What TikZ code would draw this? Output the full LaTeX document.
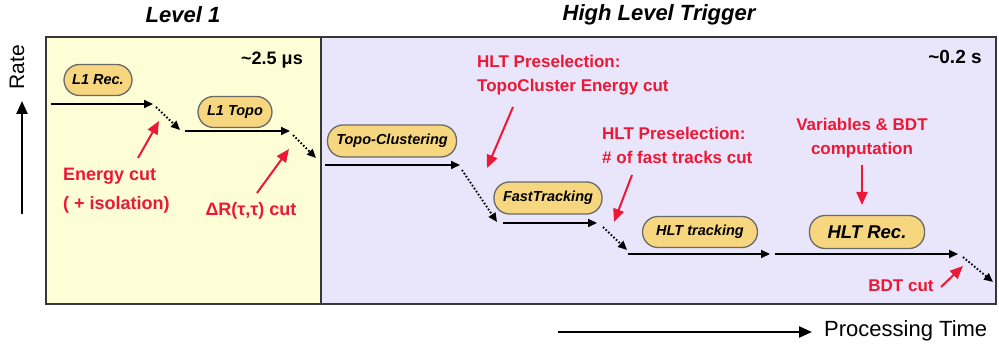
\documentclass[tikz,border=0pt]{standalone}
\usepackage{fontspec}
\setmainfont{Liberation Sans}
\usetikzlibrary{arrows.meta}

\definecolor{lonebg}{RGB}{254,254,214}
\definecolor{hltbg}{RGB}{233,230,251}
\definecolor{pillfill}{RGB}{247,214,128}
\definecolor{pilledge}{RGB}{105,105,105}
\definecolor{cutred}{RGB}{236,24,54}
\definecolor{framegray}{RGB}{55,55,55}

\tikzset{
  stage/.style={draw=pilledge, line width=1.3pt, fill=pillfill,
    rounded corners=15.5pt, minimum height=31pt, inner sep=0pt,
    font=\bfseries\itshape\fontsize{14.5}{16}\selectfont},
  flow/.style={line width=2pt, -{Triangle[length=9pt,width=8pt]}},
  drop/.style={line width=1.9pt, dash pattern=on 1.6pt off 2pt,
    -{Triangle[length=9pt,width=8pt]}},
  cutarrow/.style={cutred, line width=2pt, -{Triangle[length=13pt,width=11pt]}},
  cutlabel/.style={text=cutred, inner sep=0pt, font=\bfseries\fontsize{17}{24}\selectfont},
  axisarrow/.style={line width=2.4pt, -{Triangle[length=13pt,width=11pt]}},
  title/.style={inner sep=0pt, font=\bfseries\itshape\fontsize{22}{24}\selectfont},
  timing/.style={inner sep=0pt, font=\bfseries\fontsize{18}{20}\selectfont},
}

\begin{document}
\begin{tikzpicture}[x=1pt, y=-1pt]
\useasboundingbox (0,0) rectangle (999,347);

% trigger level panels
\draw[framegray, line width=2pt, fill=lonebg] (46,37) rectangle (321,304);
\draw[framegray, line width=2pt, fill=hltbg] (321,37) rectangle (996,304);

% titles and timing budgets
\node[title] (l1title) at (183,15) {Level 1};
\node[title] (hlttitle) at (659,15) {High Level Trigger};
\node[timing] (l1time) at (272,60) {\textasciitilde2.5 μs};
\node[timing, font=\bfseries\fontsize{19}{21}\selectfont] (hlttime) at (955,57) {\textasciitilde0.2 s};

% axes
\node[inner sep=0pt, rotate=90, font=\fontsize{21}{23}\selectfont] (rate) at (17,67) {Rate};
\coordinate (ratebot) at (22,214);
\coordinate (ratetop) at (22,101);
\draw[axisarrow] (ratebot) -- (ratetop);
\coordinate (timel) at (558,332);
\coordinate (timer) at (812,332);
\draw[axisarrow] (timel) -- (timer);
\node[inner sep=0pt, anchor=west, font=\fontsize{22}{24}\selectfont] (ptime) at (824,331) {Processing Time};

% processing stages
\node[stage, minimum width=68pt] (l1rec) at (98,80) {L1 Rec.};
\node[stage, minimum width=74pt] (l1topo) at (235,112) {L1 Topo};
\node[stage, minimum width=129pt, minimum height=32pt] (topocl) at (392,141) {Topo-Clustering};
\node[stage, minimum width=108pt, minimum height=32pt] (fasttrk) at (548,198) {FastTracking};
\node[stage, minimum width=115pt] (hlttrk) at (700,232) {HLT tracking};
\node[stage, minimum width=115pt, minimum height=33pt,
      font=\bfseries\itshape\fontsize{18.5}{20}\selectfont] (hltrec) at (867,232) {HLT Rec.};

% rate steps: processing (solid) and rejection (dotted)
\coordinate (a1s) at (51,104);   \coordinate (a1e) at (153,104);
\coordinate (d1s) at (156,107);  \coordinate (d1e) at (180,130);
\coordinate (a2s) at (185,131);  \coordinate (a2e) at (290,131);
\coordinate (d2s) at (293,135);  \coordinate (d2e) at (316,158);
\coordinate (a3s) at (325,165);  \coordinate (a3e) at (460,165);
\coordinate (d3s) at (462,170);  \coordinate (d3e) at (497,222);
\coordinate (a4s) at (503,223);  \coordinate (a4e) at (597,223);
\coordinate (d4s) at (603,227);  \coordinate (d4e) at (627,250);
\coordinate (a5s) at (628,254);  \coordinate (a5e) at (770,254);
\coordinate (a6s) at (775,254);  \coordinate (a6e) at (958,254);
\coordinate (d6s) at (963,257);  \coordinate (d6e) at (993,282);

\draw[flow] (a1s) -- (a1e);
\draw[drop] (d1s) -- (d1e);
\draw[flow] (a2s) -- (a2e);
\draw[drop] (d2s) -- (d2e);
\draw[flow] (a3s) -- (a3e);
\draw[drop] (d3s) -- (d3e);
\draw[flow] (a4s) -- (a4e);
\draw[drop] (d4s) -- (d4e);
\draw[flow] (a5s) -- (a5e);
\draw[flow] (a6s) -- (a6e);
\draw[drop] (d6s) -- (d6e);

% selection cuts
\node[cutlabel, align=left, anchor=west, font=\bfseries\fontsize{18}{29}\selectfont]
  (ecut) at (63,191) {Energy cut\\( + isolation)};
\node[cutlabel, font=\bfseries\fontsize{18}{20}\selectfont] (drcut) at (251,211) {ΔR(τ,τ) cut};
\node[cutlabel, align=left, anchor=west] (presel1) at (477,75) {HLT Preselection:\\TopoCluster Energy cut};
\node[cutlabel, align=left, anchor=west] (presel2) at (602,145) {HLT Preselection:\\\# of fast tracks cut};
\node[cutlabel, align=center] (bdtvar) at (862,138) {Variables \& BDT\\computation};
\node[cutlabel] (bdtcut) at (901,286) {BDT cut};

\coordinate (r1s) at (138,158);  \coordinate (r1e) at (159,121);
\coordinate (r2s) at (257,193);  \coordinate (r2e) at (289,149);
\coordinate (r3s) at (513,107);  \coordinate (r3e) at (487,168);
\coordinate (r4s) at (632,175);  \coordinate (r4e) at (614,222);
\coordinate (r5s) at (862,165);  \coordinate (r5e) at (862,205);
\coordinate (r6s) at (941,287);  \coordinate (r6e) at (963,266);

\draw[cutarrow] (r1s) -- (r1e);
\draw[cutarrow] (r2s) -- (r2e);
\draw[cutarrow] (r3s) -- (r3e);
\draw[cutarrow] (r4s) -- (r4e);
\draw[cutarrow] (r5s) -- (r5e);
\draw[cutarrow] (r6s) -- (r6e);
\end{tikzpicture}
\end{document}
